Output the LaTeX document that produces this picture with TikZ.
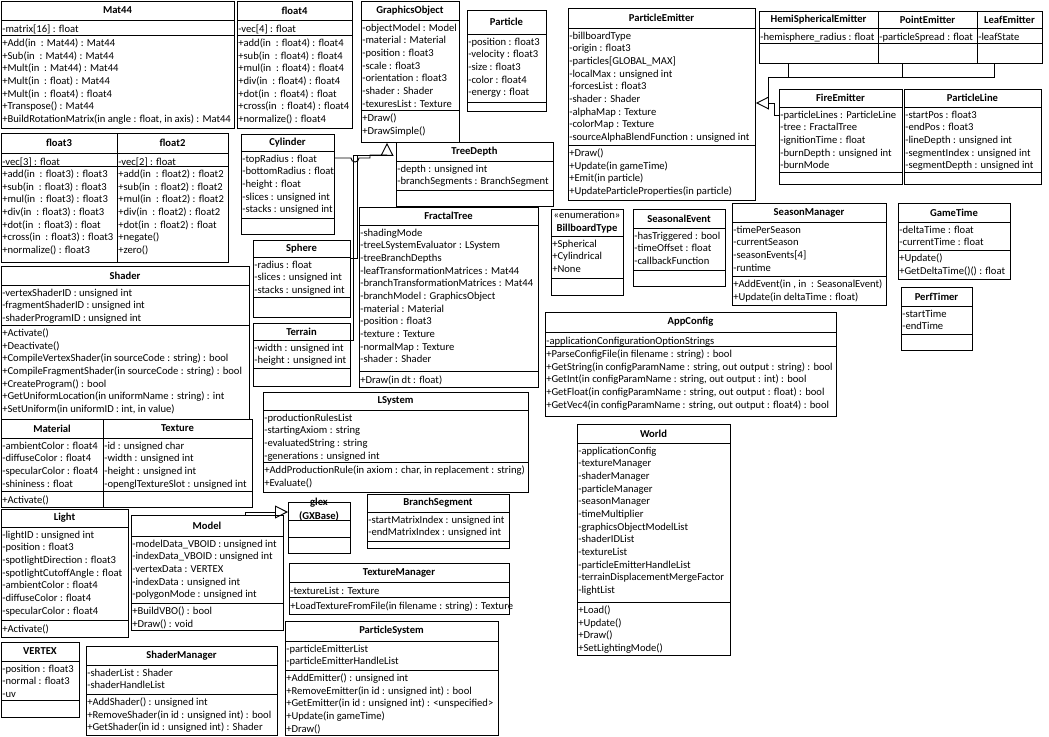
\documentclass[tikz,border=0pt]{standalone}
\usepackage{fontspec}
\setmainfont{Carlito}
\usetikzlibrary{arrows.meta,calc}

\newcommand\fs{\fontsize{7.95}{9.5}\selectfont}

\tikzset{
  box/.style={draw, line width=0.7pt, inner sep=0, anchor=north west},
  sep/.style={line width=0.7pt},
  ttl/.style={font=\fs\bfseries, align=center, inner sep=0},
  txt/.style={font=\fs, align=left, anchor=north west, inner sep=0, execute at begin node=\strut},
  link/.style={line width=0.7pt},
  gen/.style={link, -{Triangle[open, length=9.75pt, width=9.75pt, line width=0.7pt]}},
}

% \umlbox{name}{left/top/right/bottom}{div1/div2}{title}{attributes}{operations}
\makeatletter
\def\ub@geom#1/#2/#3/#4\@nil{\def\ubL{#1}\def\ubT{#2}\def\ubR{#3}\def\ubB{#4}}
\def\ub@div#1/#2\@nil{\def\ubA{#1}\def\ubO{#2}}
\newcommand\umlbox[6]{%
  \ub@geom#2\@nil \ub@div#3\@nil
  \pgfmathsetmacro\ubW{(\ubR-\ubL)*0.75}%
  \pgfmathsetmacro\ubH{(\ubB-\ubT)*0.75}%
  \node[box, minimum width=\ubW pt, minimum height=\ubH pt] (#1) at (\ubL,\ubT) {};
  \draw[sep] (\ubL,\ubA) -- (\ubR,\ubA) (\ubL,\ubO) -- (\ubR,\ubO);
  \node[ttl] (#1-t) at ({(\ubL+\ubR)/2},{(\ubT+\ubA)/2}) {#4};
  \node[txt] (#1-a) at (\ubL+1,\ubA+3.5) {#5};
  \node[txt] (#1-o) at (\ubL+1,\ubO+3.5) {#6};
}
\makeatother

\begin{document}
\begin{tikzpicture}[x=0.75pt, y=-0.75pt]
\useasboundingbox (0,0) rectangle (1049,737);

% ---- math types
\umlbox{mat44}{1/1/234/128}{20/35}{Mat44}{-matrix[16] : float}
{+Add(in~ : Mat44) : Mat44\\+Sub(in~ : Mat44) : Mat44\\+Mult(in~ : Mat44) : Mat44\\+Mult(in~ : float) : Mat44\\+Mult(in~ : float4) : float4\\+Transpose() : Mat44\\+BuildRotationMatrix(in angle : float, in axis) : Mat44}
\umlbox{float4}{237/1/352/128}{20/35}{float4}{-vec[4] : float}
{+add(in~ : float4) : float4\\+sub(in~ : float4) : float4\\+mul(in~ : float4) : float4\\+div(in~ : float4) : float4\\+dot(in~ : float4) : float\\+cross(in~ : float4) : float4\\+normalize() : float4}
\umlbox{float3}{1/133/117/262}{153/166}{float3}{-vec[3] : float}
{+add(in~ : float3) : float3\\+sub(in~ : float3) : float3\\+mul(in~ : float3) : float3\\+div(in~ : float3) : float3\\+dot(in~ : float3) : float\\+cross(in~ : float3) : float3\\+normalize() : float3}
\umlbox{float2}{117/133/228/262}{153/166}{float2}{-vec[2] : float}
{+add(in~ : float2) : float2\\+sub(in~ : float2) : float2\\+mul(in~ : float2) : float2\\+div(in~ : float2) : float2\\+dot(in~ : float2) : float\\+negate()\\+zero()}

% ---- graphics objects
\umlbox{go}{361/1/459/142}{20/110}{GraphicsObject}
{-objectModel : Model\\-material : Material\\-position : float3\\-scale : float3\\-orientation : float3\\-shader : Shader\\-texuresList : Texture}
{+Draw()\\+DrawSimple()}
\umlbox{cyl}{241/134/334/234}{151/218}{Cylinder}
{-topRadius : float\\-bottomRadius : float\\-height : float\\-slices : unsigned int\\-stacks : unsigned int}{}
\umlbox{sphere}{253/240/350/317}{257/297}{Sphere}
{-radius : float\\-slices : unsigned int\\-stacks : unsigned int}{}
\umlbox{terrain}{253/323/350/386}{340/368}{Terrain}
{-width : unsigned int\\-height : unsigned int}{}
\umlbox{tdepth}{396/142/553/206}{161/190}{TreeDepth}
{-depth : unsigned int\\-branchSegments : BranchSegment}{}
\umlbox{ftree}{359/207/538/387}{225/371}{FractalTree}
{-shadingMode\\-treeLSystemEvaluator : LSystem\\-treeBranchDepths\\-leafTransformationMatrices : Mat44\\-branchTransformationMatrices : Mat44\\-branchModel : GraphicsObject\\-material : Material\\-position : float3\\-texture : Texture\\-normalMap : Texture\\-shader : Shader}
{+Draw(in dt : float)}

% ---- particles
\umlbox{particle}{467/10/546/111}{34/102}{Particle}
{-position : float3\\-velocity : float3\\-size : float3\\-color : float4\\-energy : float}{}
\umlbox{pe}{568/8/755/200}{28/145}{ParticleEmitter}
{-billboardType\\-origin : float3\\-particles[GLOBAL\_MAX]\\-localMax : unsigned int\\-forcesList : float3\\-shader : Shader\\-alphaMap : Texture\\-colorMap : Texture\\-sourceAlphaBlendFunction : unsigned int}
{+Draw()\\+Update(in gameTime)\\+Emit(in particle)\\+UpdateParticleProperties(in particle)}
\umlbox{hemi}{759/11/878/63}{28/43}{HemiSphericalEmitter}{-hemisphere\_radius : float}{}
\umlbox{point}{878/11/977/63}{28/43}{PointEmitter}{-particleSpread : float}{}
\umlbox{leaf}{977/11/1042/63}{28/43}{LeafEmitter}{-leafState}{}
\umlbox{fire}{779/89/902/184}{107/172}{FireEmitter}
{-particleLines : ParticleLine\\-tree : FractalTree\\-ignitionTime : float\\-burnDepth : unsigned int\\-burnMode}{}
\umlbox{pline}{904/89/1041/184}{107/172}{ParticleLine}
{-startPos : float3\\-endPos : float3\\-lineDepth : unsigned int\\-segmentIndex : unsigned int\\-segmentDepth : unsigned int}{}

% ---- seasons and timing
\umlbox{bill}{551/209/623/295}{236/278}{{\mdseries«enumeration»}\\BillboardType}
{+Spherical\\+Cylindrical\\+None}{}
\umlbox{sevent}{633/209/725/286}{228/270}{SeasonalEvent}
{-hasTriggered : bool\\-timeOffset : float\\-callbackFunction}{}
\umlbox{sman}{732/203/886/305}{222/276}{SeasonManager}
{-timePerSeason\\-currentSeason\\-seasonEvents[4]\\-runtime}
{+AddEvent(in , in~ : SeasonalEvent)\\+Update(in deltaTime : float)}
\umlbox{gtime}{898/203/1010/279}{222/250}{GameTime}
{-deltaTime : float\\-currentTime : float}{+Update()\\+GetDeltaTime()() : float}
\umlbox{ptimer}{901/287/972/350}{306/334}{PerfTimer}{-startTime\\-endTime}{}
\umlbox{appcfg}{545/312/836/416}{332/346}{AppConfig}
{-applicationConfigurationOptionStrings}
{+ParseConfigFile(in filename : string) : bool\\+GetString(in configParamName : string, out output : string) : bool\\+GetInt(in configParamName : string, out output : int) : bool\\+GetFloat(in configParamName : string, out output : float) : bool\\+GetVec4(in configParamName : string, out output : float4) : bool}
\umlbox{world}{577/424/730/655}{443/602}{World}
{-applicationConfig\\-textureManager\\-shaderManager\\-particleManager\\-seasonManager\\-timeMultiplier\\-graphicsObjectModelList\\-shaderIDList\\-textureList\\-particleEmitterHandleList\\-terrainDisplacementMergeFactor\\-lightList}
{+Load()\\+Update()\\+Draw()\\+SetLightingMode()}

% ---- rendering
\umlbox{shader}{1/266/249/419}{285/325}{Shader}
{-vertexShaderID : unsigned int\\-fragmentShaderID : unsigned int\\-shaderProgramID : unsigned int}
{+Activate()\\+Deactivate()\\+CompileVertexShader(in sourceCode : string) : bool\\+CompileFragmentShader(in sourceCode : string) : bool\\+CreateProgram() : bool\\+GetUniformLocation(in uniformName : string) : int\\+SetUniform(in uniformID : int, in value)}
\umlbox{material}{1/419/103/507}{438/491}{Material}
{-ambientColor : float4\\-diffuseColor : float4\\-specularColor : float4\\-shininess : float}{+Activate()}
\umlbox{texture}{103/419/252/507}{438/491}{Texture}
{-id : unsigned char\\-width : unsigned int\\-height : unsigned int\\-openglTextureSlot : unsigned int}{}
\umlbox{lsys}{263/392/528/492}{410/462}{LSystem}
{-productionRulesList\\-startingAxiom : string\\-evaluatedString : string\\-generations : unsigned int}
{+AddProductionRule(in axiom : char, in replacement : string)\\+Evaluate()}
\umlbox{light}{1/509/128/637}{527/620}{Light}
{-lightID : unsigned int\\-position : float3\\-spotlightDirection : float3\\-spotlightCutoffAngle : float\\-ambientColor : float4\\-diffuseColor : float4\\-specularColor : float4}{+Activate()}
\umlbox{model}{131/515/283/630}{536/603}{Model}
{-modelData\_VBOID : unsigned int\\-indexData\_VBOID : unsigned int\\-vertexData : VERTEX\\-indexData : unsigned int\\-polygonMode : unsigned int}
{+BuildVBO() : bool\\+Draw() : void}
\umlbox{glex}{288/502/350/553}{520/537}{\raisebox{3pt}{\shortstack{glex\\(GXBase)}}}{}{}
\umlbox{bseg}{367/494/509/548}{512/541}{BranchSegment}
{-startMatrixIndex : unsigned int\\-endMatrixIndex : unsigned int}{}
\umlbox{tman}{289/563/509/614}{582/597}{TextureManager}
{-textureList : Texture}{+LoadTextureFromFile(in filename : string) : Texture}
\umlbox{psys}{285/621/498/735}{641/670}{ParticleSystem}
{-particleEmitterList\\-particleEmitterHandleList}
{+AddEmitter() : unsigned int\\+RemoveEmitter(in id : unsigned int) : bool\\+GetEmitter(in id : unsigned int) : <unspecified>\\+Update(in gameTime)\\+Draw()}
\umlbox{vertex}{1/642/79/717}{661/700}{VERTEX}
{-position : float3\\-normal : float3\\-uv}{}
\umlbox{shman}{86/646/277/735}{665/694}{ShaderManager}
{-shaderList : Shader\\-shaderHandleList}
{+AddShader() : unsigned int\\+RemoveShader(in id : unsigned int) : bool\\+GetShader(in id : unsigned int) : Shader}

% ---- generalisations towards ParticleEmitter
\coordinate (bus) at (768,77);
\coordinate (pe-in) at (768,103);
\draw[gen] (pe-in) -- (pe.east |- pe-in);
\draw[link] ($(hemi.south west)+(29,0)$) |- (bus);
\draw[link] ($(point.south west)+(24,0)$) -- ++(0,14);
\draw[link] ($(leaf.south west)+(17,0)$) |- (bus);
\draw[link] (bus) -- ++(0,20);
\draw[link] ($(fire.north west)+(0,26)$) -- ++(-5,0) |- (pe-in);

% ---- generalisations towards GraphicsObject
\coordinate (go-in) at (387,155);
\draw[gen] (go-in) -- (go-in |- go.south);
\draw[link] (terrain.east |- 0,340) -- (353,340) |- (go-in);
\draw[link] (sphere.east |- 0,258) -- (357,258) |- (go-in);
\draw[link] (cyl.east |- 0,158) -- (351,158) arc[start angle=180, end angle=0, radius=4] -- (370,158) |- (go-in);

% ---- generalisation towards glex
\draw[gen] ($(model.north west)+(114,0)$) |- ($(glex.north west)+(0,10)$);

\end{tikzpicture}
\end{document}
